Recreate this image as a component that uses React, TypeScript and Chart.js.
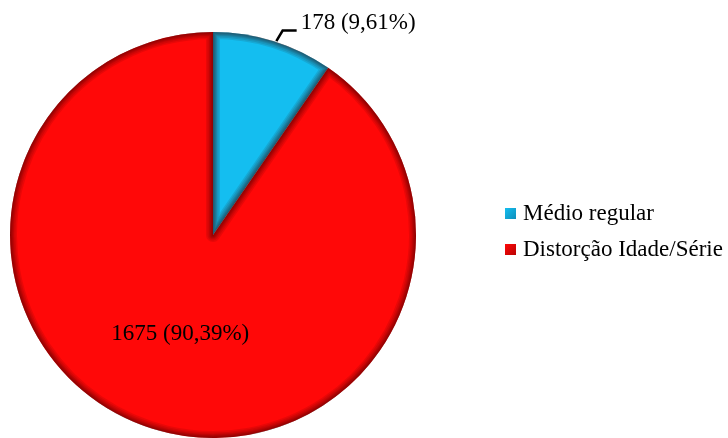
import React, { useEffect, useRef } from "react";
import { Chart, registerables } from "chart.js";

Chart.register(...registerables);

const categories = ["Médio regular", "Distorção Idade/Série"];
const values = [178, 1675];
const percentLabels = ["9,61%", "90,39%"];
const colors = ["#14BEF0", "#FF0808"];

const FONT = '"Liberation Serif", "Times New Roman", serif';

const bevelPlugin = {
  id: "bevel",
  afterDatasetsDraw(chart: any) {
    const ctx = chart.ctx;
    const meta = chart.getDatasetMeta(0);
    meta.data.forEach((arc: any) => {
      const { x, y, startAngle, endAngle, outerRadius } = arc.getProps(
        ["x", "y", "startAngle", "endAngle", "outerRadius"],
        true
      );
      const path = () => {
        ctx.beginPath();
        ctx.moveTo(x, y);
        ctx.arc(x, y, outerRadius, startAngle, endAngle);
        ctx.closePath();
      };
      ctx.save();
      path();
      ctx.clip();
      const bands = [14, 11, 8, 6, 4, 2];
      bands.forEach((w) => {
        path();
        ctx.lineWidth = w;
        ctx.strokeStyle = "rgba(50,0,0,0.11)";
        ctx.lineJoin = "round";
        ctx.stroke();
      });
      ctx.restore();
    });
  },
};

const labelPlugin = {
  id: "labels",
  afterDraw(chart: any) {
    const ctx = chart.ctx;
    const meta = chart.getDatasetMeta(0);
    ctx.save();
    ctx.font = `23px ${FONT}`;
    ctx.fillStyle = "#000";
    ctx.textBaseline = "middle";
    meta.data.forEach((arc: any, i: number) => {
      const { x, y, startAngle, endAngle, outerRadius } = arc.getProps(
        ["x", "y", "startAngle", "endAngle", "outerRadius"],
        true
      );
      const mid = (startAngle + endAngle) / 2;
      const text = `${values[i]} (${percentLabels[i]})`;
      if (i === 0) {
        const p0x = x + Math.cos(mid) * outerRadius;
        const p0y = y + Math.sin(mid) * outerRadius;
        const p1x = x + Math.cos(mid) * outerRadius * 1.055 + 6;
        const p1y = y + Math.sin(mid) * outerRadius * 1.055;
        ctx.beginPath();
        ctx.moveTo(p0x + 3, p0y);
        ctx.lineTo(p1x, p1y);
        ctx.lineTo(p1x + 14, p1y);
        ctx.lineWidth = 2.5;
        ctx.strokeStyle = "#000";
        ctx.stroke();
        ctx.textAlign = "left";
        ctx.fillText(text, p1x + 18, p1y - 8);
      } else {
        const lx = x + Math.cos(mid) * outerRadius * 0.51;
        const ly = y + Math.sin(mid) * outerRadius * 0.51;
        ctx.textAlign = "center";
        ctx.fillText(text, lx - 2, ly);
      }
    });
    // legend
    const lx = 505;
    const rows = [213, 249];
    ctx.textAlign = "left";
    categories.forEach((c, i) => {
      const cy = rows[i];
      const g = ctx.createLinearGradient(lx, cy - 5, lx + 11, cy + 6);
      g.addColorStop(0, colors[i]);
      g.addColorStop(1, i === 0 ? "#0A6E96" : "#8A0000");
      ctx.fillStyle = colors[i];
      ctx.fillRect(lx, cy - 5, 11, 11);
      ctx.fillStyle = g;
      ctx.globalAlpha = 0.6;
      ctx.fillRect(lx, cy - 5, 11, 11);
      ctx.globalAlpha = 1;
      ctx.fillStyle = "#000";
      ctx.fillText(c, lx + 18, cy + 1);
    });
    ctx.restore();
  },
};

export default function App() {
  const ref = useRef<HTMLCanvasElement | null>(null);
  useEffect(() => {
    document.body.style.margin = "0";
    const canvas = ref.current!;
    const chart = new Chart(canvas, {
      type: "pie",
      data: {
        labels: categories,
        datasets: [
          {
            data: values,
            backgroundColor: colors,
            borderWidth: 0,
          },
        ],
      },
      options: {
        animation: false,
        responsive: false,
        maintainAspectRatio: false,
        layout: { padding: { left: 10, right: 312, top: 32, bottom: 0 } },
        plugins: {
          legend: { display: false },
          tooltip: { enabled: false },
        },
      },
      plugins: [bevelPlugin, labelPlugin],
    });
    return () => chart.destroy();
  }, []);
  return (
    <div style={{ width: 728, height: 438 }}>
      <canvas ref={ref} width={728} height={438} style={{ display: "block" }} />
    </div>
  );
}
